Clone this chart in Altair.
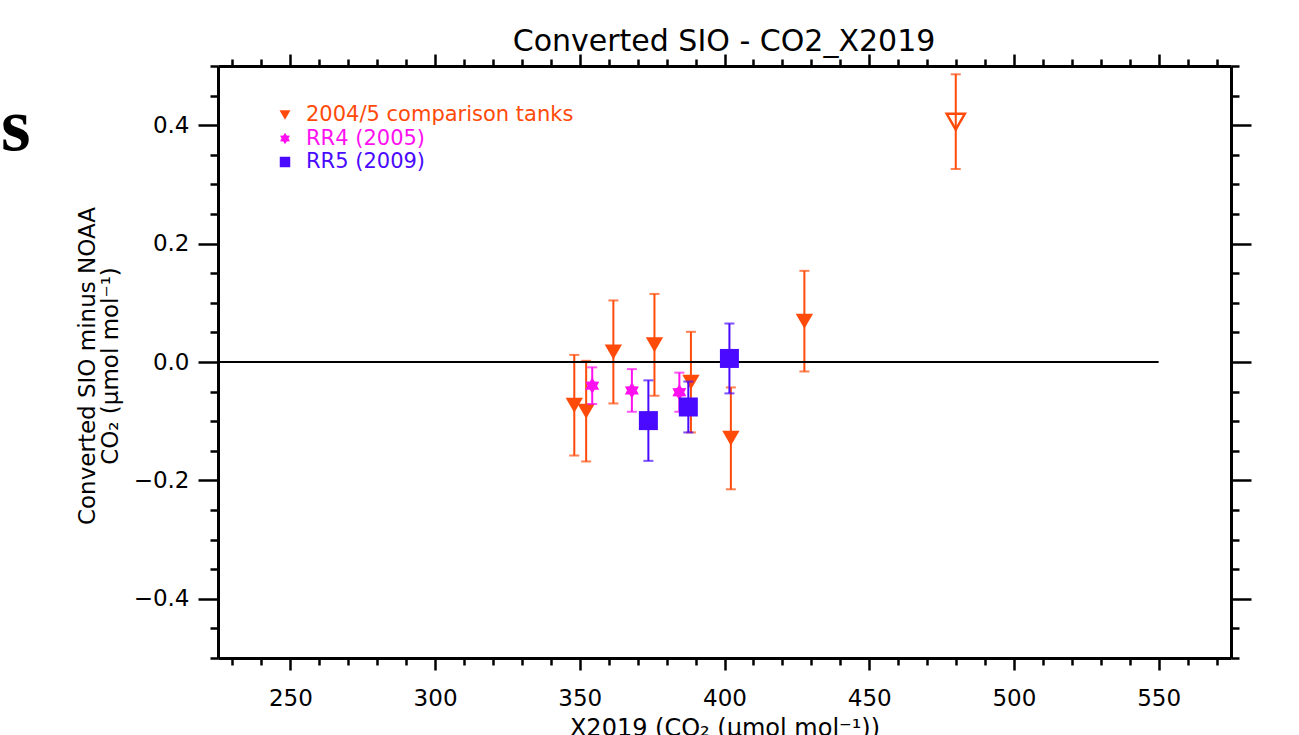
import math
import altair as alt
import pandas as pd

# ---------------- data ----------------
TANK_X = [348.1, 352.2, 361.6, 375.8, 388.4, 402.2, 427.6, 479.9]
TANK_Y = [-0.073, -0.083, 0.017, 0.029, -0.034, -0.129, 0.069, 0.406]
TANK_ERR = [0.085, 0.085, 0.087, 0.086, 0.085, 0.086, 0.085, 0.080]
TANK_FILLED = [True, True, True, True, True, True, True, False]

RR4_X = [354.3, 368.0, 384.4]
RR4_Y = [-0.040, -0.048, -0.051]
RR4_ERR = [0.031, 0.036, 0.033]

RR5_X = [373.7, 387.5, 401.7]
RR5_Y = [-0.099, -0.076, 0.006]
RR5_ERR = [0.068, 0.043, 0.059]

ZERO_X = [225, 550]
ZERO_Y = [0.0]

X_DOMAIN = [225, 575]
Y_DOMAIN = [-0.5, 0.5]
X_TICKS = [230, 240, 250, 260, 270, 280, 290, 300, 310, 320, 330, 340, 350, 360,
           370, 380, 390, 400, 410, 420, 430, 440, 450, 460, 470, 480, 490, 500,
           510, 520, 530, 540, 550, 560, 570]
Y_TICKS = [-0.5, -0.45, -0.4, -0.35, -0.3, -0.25, -0.2, -0.15, -0.1, -0.05, 0.0,
           0.05, 0.1, 0.15, 0.2, 0.25, 0.3, 0.35, 0.4, 0.45, 0.5]

LEGEND_LABELS = ["2004/5 comparison tanks", "RR4 (2005)", "RR5 (2009)"]
TITLE = "Converted SIO - CO2_X2019"
Y_TITLE = "Converted SIO minus NOAA\nCO\u2082 (\u03bcmol mol\u207b\u00b9)"
X_TITLE = "X2019 (CO\u2082 (\u03bcmol mol\u207b\u00b9))"

ORANGE = "#FF4A0A"
MAGENTA = "#FF10F0"
BLUE = "#4A0AFF"
FONT = "DejaVu Sans"

# 6-pointed star symbol (unit coordinates)
_pts = []
for k in range(12):
    a = math.radians(-90 + 30 * k)
    r = 1.0 if k % 2 == 0 else 0.6
    _pts.append(f"{r * math.cos(a):.3f},{r * math.sin(a):.3f}")
STAR = "M" + " L".join(_pts) + " Z"


def frame(xs, ys, errs, color):
    return pd.DataFrame({
        "x": xs, "y": ys,
        "lo": [y - e for y, e in zip(ys, errs)],
        "hi": [y + e for y, e in zip(ys, errs)],
        "color": [color] * len(xs),
    })


tanks = frame(TANK_X, TANK_Y, TANK_ERR, ORANGE)
tanks["filled"] = TANK_FILLED
rr4 = frame(RR4_X, RR4_Y, RR4_ERR, MAGENTA)
rr5 = frame(RR5_X, RR5_Y, RR5_ERR, BLUE)

xs = alt.Scale(domain=X_DOMAIN, nice=False, zero=False)
ys = alt.Scale(domain=Y_DOMAIN, nice=False, zero=False)

XMAJ = "datum.value % 50 === 0"
YMAJ = "abs(round(datum.value * 100)) % 20 === 0"

common = dict(domainColor="black", domainWidth=3, tickColor="black", tickWidth=2.5,
              grid=False, title=None, labelOverlap=False, labelFlush=False,
              labelBound=False)

ax_bottom = alt.Axis(orient="bottom", values=X_TICKS,
                     tickSize={"condition": {"test": XMAJ, "value": 12}, "value": 7},
                     labelExpr=f"{XMAJ} ? datum.label : ''",
                     labelFont=FONT, labelFontSize=23, labelColor="black",
                     labelPadding=17, **common)
ax_top = alt.Axis(orient="top", values=X_TICKS, labels=False,
                  tickSize={"condition": {"test": XMAJ, "value": 12}, "value": 7},
                  **common)
ax_left = alt.Axis(orient="left", values=Y_TICKS,
                   tickSize={"condition": {"test": YMAJ, "value": 20}, "value": 8},
                   labelExpr=f"{YMAJ} ? format(datum.value, '.1f') : ''",
                   labelFont=FONT, labelFontSize=23, labelColor="black",
                   labelPadding=9, **common)
ax_right = alt.Axis(orient="right", values=Y_TICKS, labels=False,
                    tickSize={"condition": {"test": YMAJ, "value": 20}, "value": 8},
                    **common)


def bars(df, xaxis=None, yaxis=None):
    return alt.Chart(df).mark_rule(strokeWidth=2).encode(
        x=alt.X("x:Q", scale=xs, axis=xaxis),
        y=alt.Y("lo:Q", scale=ys, axis=yaxis),
        y2="hi:Q",
        color=alt.Color("color:N", scale=None),
    )


def caps(df, xaxis=None, yaxis=None):
    return alt.Chart(df).transform_fold(["lo", "hi"], as_=["end", "yv"]).mark_tick(
        orient="horizontal", size=10, thickness=2
    ).encode(
        x=alt.X("x:Q", scale=xs, axis=xaxis),
        y=alt.Y("yv:Q", scale=ys, axis=yaxis),
        color=alt.Color("color:N", scale=None),
    )


def pts(df, shape, size, color, filled=True, sw=0):
    return alt.Chart(df).mark_point(shape=shape, size=size, filled=filled, opacity=1,
                                    color=color, strokeWidth=sw).encode(
        x=alt.X("x:Q", scale=xs, axis=None),
        y=alt.Y("y:Q", scale=ys, axis=None),
    )


zero = alt.Chart(pd.DataFrame({"x": [ZERO_X[0]], "x2": [ZERO_X[1]], "y": ZERO_Y})).mark_rule(
    color="black", strokeWidth=2
).encode(
    x=alt.X("x:Q", scale=xs, axis=None), x2="x2:Q",
    y=alt.Y("y:Q", scale=ys, axis=None),
)

tri_f = pts(tanks, "triangle-down", 300, ORANGE).transform_filter("datum.filled")
tri_o = pts(tanks, "triangle-down", 330, ORANGE, filled=False, sw=2.5).transform_filter("!datum.filled")
stars = pts(rr4, STAR, 260, MAGENTA)
squares = pts(rr5, "square", 361, BLUE)

legend_df = pd.DataFrame({
    "label": LEGEND_LABELS,
    "i": [0, 1, 2],
    "color": [ORANGE, MAGENTA, BLUE],
    "shape": ["triangle-down", STAR, "square"],
    "sz": [120, 130, 110],
})
leg_sym = alt.Chart(legend_df).transform_calculate(py="49 + datum.i * 23.5").mark_point(
    filled=True, opacity=1
).encode(
    x=alt.value(67),
    y=alt.Y("py:Q", scale=None, axis=None),
    shape=alt.Shape("shape:N", scale=None),
    size=alt.Size("sz:Q", scale=None),
    color=alt.Color("color:N", scale=None),
)
leg_txt = alt.Chart(legend_df).transform_calculate(py="49 + datum.i * 23.5").mark_text(
    align="left", baseline="middle", font=FONT, fontSize=21
).encode(
    x=alt.value(88),
    y=alt.Y("py:Q", scale=None, axis=None),
    text="label:N",
    color=alt.Color("color:N", scale=None),
)

one = pd.DataFrame({"a": [0]})
title = alt.Chart(one).mark_text(font=FONT, fontSize=30, align="center", baseline="middle",
                                 color="black").encode(
    x=alt.value(506), y=alt.value(-24), text=alt.value(TITLE))
ytitle = alt.Chart(one).mark_text(font=FONT, fontSize=23, align="center", baseline="middle",
                                  angle=270, lineBreak="\n", lineHeight=23,
                                  color="black").encode(
    x=alt.value(-130), y=alt.value(300), text=alt.value(Y_TITLE))
xtitle = alt.Chart(one).mark_text(font=FONT, fontSize=24, align="center",
                                  baseline="alphabetic", color="black").encode(
    x=alt.value(507), y=alt.value(670), text=alt.value(X_TITLE))
big_s = alt.Chart(one).mark_text(font="Liberation Serif", fontWeight="bold", fontSize=76,
                                 align="left", baseline="alphabetic", color="black").encode(
    x=alt.value(-217), y=alt.value(84), text=alt.value("s"))

chart = alt.layer(
    bars(tanks, ax_bottom, ax_left),
    caps(tanks, ax_top, ax_right),
    zero,
    tri_f, tri_o,
    bars(rr4), caps(rr4), stars,
    bars(rr5), caps(rr5), squares,
    leg_sym, leg_txt, title, ytitle, xtitle, big_s,
).resolve_axis(x="independent", y="independent").properties(
    width=1013, height=592,
    autosize=alt.AutoSizeParams(type="none"),
    padding={"left": 218, "top": 66, "right": 68, "bottom": 77},
    background="white",
).configure_view(stroke=None)

chart.save("out.html", embed_options={"renderer": "svg", "actions": False})
